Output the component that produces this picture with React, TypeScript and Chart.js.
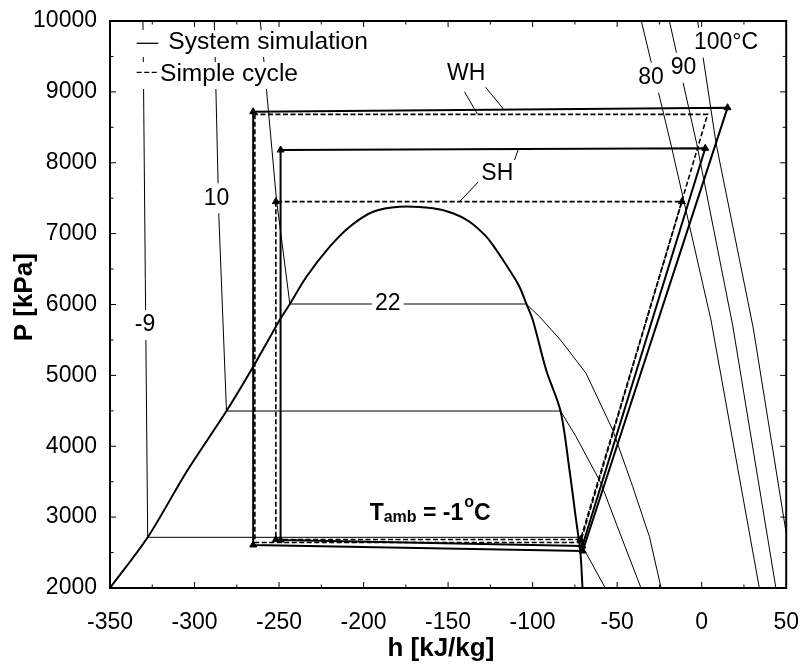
import { useEffect, useRef } from 'react';
import { Chart, registerables } from 'chart.js';

Chart.register(...registerables);

const FONT = '"Liberation Sans", Arial, Helvetica, sans-serif';

// ---- axes ----
const hMin = -350;
const hMax = 50;
const pMin = 2000;
const pMax = 10000;
const xTicks = [-350, -300, -250, -200, -150, -100, -50, 0, 50];
const yTicks = [2000, 3000, 4000, 5000, 6000, 7000, 8000, 9000, 10000];
const xMinorStep = 25;
const yMinorStep = 500;

// ---- saturation dome ----
const domeH = [-350, -327.7, -304.7, -281.1, -265.3, -249.6, -243.6, -233.8, -220, -208.2, -194.4, -178.7, -159, -147.2, -137.3, -127.4, -121.5, -113.7, -107.8, -103.8, -99.9, -92, -83.5, -78.2, -74.3, -71.7, -70.5];
const domeP = [2000, 2715, 3641, 4497, 5122, 5781, 6007, 6392, 6816, 7098, 7309, 7380, 7357, 7287, 7168, 6957, 6769, 6487, 6251, 6017, 5781, 5076, 4497, 3665, 2960, 2490, 2000];

// ---- isotherms ----
const isoM9H = [-330.5, -327.7, -73, -69.4, -57];
const isoM9P = [10000, 2715, 2715, 2536, 2000];
const iso10H = [-288.3, -285.6, -281.1, -83.5, -74.3, -59.6, -50.4, -35.9];
const iso10P = [10000, 7239, 4497, 4497, 4135, 3480, 2900, 2000];
const iso22H = [-261.1, -257.4, -251.5, -243.6, -103.8, -95.9, -83.5, -68.4, -52.6, -40.8, -30.9, -24];
const iso22P = [10000, 9026, 7474, 6007, 6007, 5828, 5499, 5029, 4229, 3430, 2724, 2000];
const iso80H = [-35.7, -18.1, 5.5, 34.1];
const iso80P = [10000, 8250, 5781, 2000];
const iso90H = [-19.1, -3, 18.3, 43.9];
const iso90P = [10000, 8274, 5711, 2000];
const iso100H = [-2.4, 8.5, 30.5, 50];
const iso100P = [10000, 8274, 5668, 2772];

// ---- cycles ----
const sysWH_H = [-265.3, -265.3, -70.4, 15.3, -265.3];
const sysWH_P = [8720, 2607, 2522, 8777, 8720];
const sysSH_H = [-249.1, -249.1, -70.6, 2.1, -249.1];
const sysSH_P = [8180, 2677, 2593, 8204, 8180];
const simWH_H = [-264.3, -264.3, -71.7, 3.5, -264.3];
const simWH_P = [8683, 2642, 2642, 8683, 8683];
const simSH_H = [-251.9, -251.9, -71.7, -11.7, -251.9];
const simSH_P = [7451, 2684, 2684, 7451, 7451];

// ---- leader lines ----
const leadWH1H = [-140.3, -132.6];
const leadWH1P = [9002, 8683];
const leadWH2H = [-127.8, -117];
const leadWH2P = [9065, 8750];
const leadSH1H = [-108.4, -110.7];
const leadSH1P = [8193, 8039];
const leadSH2H = [-132, -143.2];
const leadSH2P = [7733, 7451];

// ---- text labels ----
const labelText = ['-9', '10', '22', '80', '90', '100°C', 'WH', 'SH'];
const labelH = [-329.3, -287, -185.7, -30, -10.7, 14.4, -139.3, -120.9];
const labelP = [5711, 7498, 6017, 9200, 9341, 9694, 9262, 7841];
const legendLabels = ['System simulation', 'Simple cycle'];
const tambH = -196.4;
const tambP = 2960;

const DASH = [5, 2.5];

function pts(hs: number[], ps: number[]) {
  return hs.map((h, i) => ({ x: h, y: ps[i] }));
}

function line(hs: number[], ps: number[], opts: any = {}) {
  return {
    data: pts(hs, ps),
    showLine: true,
    borderColor: '#000',
    backgroundColor: '#000',
    pointRadius: 0,
    borderWidth: 1,
    tension: 0,
    fill: false,
    ...opts,
  };
}

const tri = { pointStyle: 'triangle', pointRadius: [4, 4, 4, 4, 0], pointBorderWidth: 1, pointBorderColor: '#000', pointBackgroundColor: '#000' };

const overlay = {
  id: 'overlay',
  afterDatasetsDraw(chart: any) {
    const { ctx, chartArea: a, scales } = chart;
    const x = scales.x;
    const y = scales.y;
    ctx.save();
    ctx.setLineDash([]);
    // inline labels with white background
    ctx.font = `23px ${FONT}`;
    ctx.textAlign = 'center';
    ctx.textBaseline = 'middle';
    labelText.forEach((t, i) => {
      const px = x.getPixelForValue(labelH[i]);
      const py = y.getPixelForValue(labelP[i]);
      const w = ctx.measureText(t).width + 6;
      const hgt = i >= 6 ? 24 : 30;
      ctx.fillStyle = '#fff';
      ctx.fillRect(px - w / 2, py - hgt / 2, w, hgt);
      ctx.fillStyle = '#000';
      ctx.fillText(t, px, py);
    });

    // legend
    const L = a.left;
    const T = a.top;
    ctx.fillStyle = '#fff';
    ctx.fillRect(L + 24, T + 9, 238, 27);
    ctx.fillRect(L + 24, T + 41, 168, 27);
    ctx.strokeStyle = '#000';
    ctx.lineWidth = 1.3;
    ctx.beginPath();
    ctx.moveTo(L + 26.7, T + 22.3);
    ctx.lineTo(L + 48.3, T + 22.3);
    ctx.stroke();
    ctx.setLineDash([5, 2.5]);
    ctx.beginPath();
    ctx.moveTo(L + 26.7, T + 51.3);
    ctx.lineTo(L + 48.3, T + 51.3);
    ctx.stroke();
    ctx.setLineDash([]);
    ctx.fillStyle = '#000';
    ctx.font = `24.6px ${FONT}`;
    ctx.textAlign = 'left';
    ctx.textBaseline = 'middle';
    ctx.fillText(legendLabels[0], L + 58.3, T + 21.5);
    ctx.fillText(legendLabels[1], L + 50, T + 53);

    // T_amb label
    const tx = x.getPixelForValue(tambH);
    const ty = y.getPixelForValue(tambP);
    ctx.textBaseline = 'alphabetic';
    let cx = tx;
    ctx.font = `bold 23px ${FONT}`;
    ctx.fillText('T', cx, ty);
    cx += ctx.measureText('T').width;
    ctx.font = `bold 16px ${FONT}`;
    ctx.fillText('amb', cx, ty + 2);
    cx += ctx.measureText('amb').width;
    ctx.font = `bold 23px ${FONT}`;
    ctx.fillText(' = -1', cx, ty);
    cx += ctx.measureText(' = -1').width;
    ctx.font = `bold 16px ${FONT}`;
    ctx.fillText('o', cx + 1, ty - 13);
    cx += ctx.measureText('o').width + 1;
    ctx.font = `bold 23px ${FONT}`;
    ctx.fillText('C', cx, ty);
    ctx.restore();
  },
  afterDraw(chart: any) {
    const { ctx, chartArea: a, scales } = chart;
    const x = scales.x;
    const y = scales.y;
    ctx.save();
    ctx.setLineDash([]);
    ctx.strokeStyle = '#000';
    ctx.lineWidth = 1;
    for (let v = hMin; v <= hMax; v += xMinorStep) {
      const px = x.getPixelForValue(v);
      const len = xTicks.includes(v) ? 6 : 3.5;
      ctx.beginPath();
      ctx.moveTo(px, a.bottom);
      ctx.lineTo(px, a.bottom - len);
      ctx.moveTo(px, a.top);
      ctx.lineTo(px, a.top + len);
      ctx.stroke();
    }
    for (let v = pMin; v <= pMax; v += yMinorStep) {
      const py = y.getPixelForValue(v);
      const len = yTicks.includes(v) ? 6 : 3.5;
      ctx.beginPath();
      ctx.moveTo(a.left, py);
      ctx.lineTo(a.left + len, py);
      ctx.moveTo(a.right, py);
      ctx.lineTo(a.right - len, py);
      ctx.stroke();
    }
    ctx.lineWidth = 2;
    ctx.strokeRect(a.left, a.top, a.right - a.left, a.bottom - a.top);
    ctx.restore();
  },
};

export default function App() {
  const ref = useRef<HTMLCanvasElement | null>(null);
  useEffect(() => {
    if (!ref.current) return;
    const chart = new Chart(ref.current, {
      type: 'scatter',
      data: {
        datasets: [
          line(isoM9H, isoM9P),
          line(iso10H, iso10P),
          line(iso22H, iso22P),
          line(iso80H, iso80P),
          line(iso90H, iso90P),
          line(iso100H, iso100P),
          line(leadWH1H, leadWH1P),
          line(leadWH2H, leadWH2P),
          line(leadSH1H, leadSH1P),
          line(leadSH2H, leadSH2P),
          line(domeH, domeP, { borderWidth: 2, tension: 0.3 }),
          line(simWH_H, simWH_P, { borderWidth: 1.6, borderDash: DASH }),
          line(simSH_H, simSH_P, { borderWidth: 1.6, borderDash: DASH, ...tri }),
          line(sysSH_H, sysSH_P, { borderWidth: 2, ...tri }),
          line(sysWH_H, sysWH_P, { borderWidth: 2, ...tri }),
        ] as any,
      },
      options: {
        animation: false,
        responsive: false,
        events: [],
        layout: { padding: { top: 21, right: 25, left: 0, bottom: 0 } },
        plugins: { legend: { display: false }, tooltip: { enabled: false } },
        scales: {
          x: {
            type: 'linear',
            min: hMin,
            max: hMax,
            grid: { display: false },
            border: { display: false },
            afterBuildTicks: (s: any) => {
              s.ticks = xTicks.map((v) => ({ value: v }));
            },
            afterFit: (s: any) => {
              s.height = 76;
            },
            ticks: {
              color: '#000',
              padding: 13,
              maxRotation: 0,
              autoSkip: false,
              font: { family: FONT, size: 23 },
              callback: (v: any) => String(v),
            },
            title: {
              display: true,
              text: 'h [kJ/kg]  ',
              color: '#000',
              padding: { top: 0, bottom: 0 },
              font: { family: FONT, size: 26, weight: 'bold' },
            },
          },
          y: {
            type: 'linear',
            min: pMin,
            max: pMax,
            grid: { display: false },
            border: { display: false },
            afterBuildTicks: (s: any) => {
              s.ticks = yTicks.map((v) => ({ value: v }));
            },
            afterFit: (s: any) => {
              s.width = 110;
            },
            ticks: {
              color: '#000',
              padding: 5,
              autoSkip: false,
              font: { family: FONT, size: 23 },
              callback: (v: any) => String(v),
            },
            title: {
              display: true,
              text: '  P [kPa]',
              color: '#000',
              padding: { top: 9, bottom: 0 },
              font: { family: FONT, size: 26, weight: 'bold' },
            },
          },
        },
      } as any,
      plugins: [overlay],
    });
    return () => chart.destroy();
  }, []);
  return (
    <canvas
      ref={ref}
      width={812}
      height={664}
      style={{ position: 'absolute', left: 0, top: 0, display: 'block' }}
    />
  );
}
